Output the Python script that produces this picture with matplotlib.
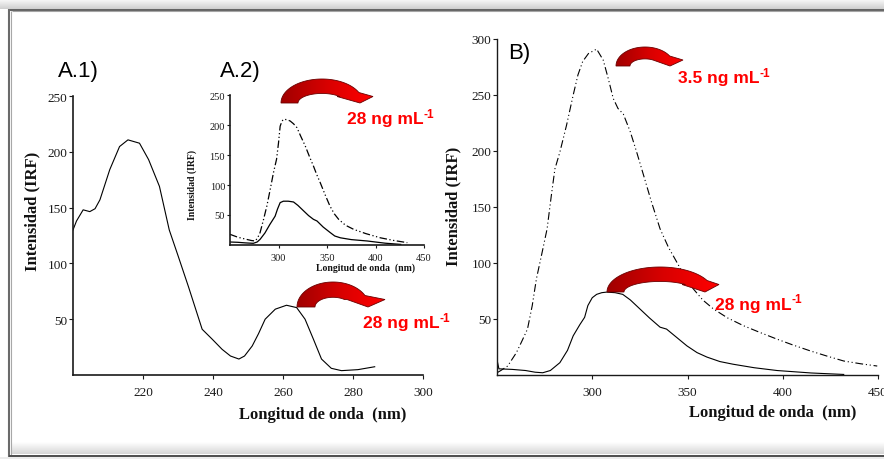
import numpy as np
import matplotlib
matplotlib.use("Agg")
import matplotlib.pyplot as plt
from matplotlib.patches import Polygon
from matplotlib.colors import LinearSegmentedColormap

plt.rcParams['font.family'] = ['Liberation Serif', 'DejaVu Serif']

# ---------------- data ----------------
# A.1) excitation spectrum
a1_wl = [200, 201, 202.9, 204.8, 206.3, 207.7, 210.5, 213.3, 215.7, 219, 221.6, 224.7,
         227.5, 230, 233, 236.9, 239.8, 242.6, 245, 247.4, 249, 251.2, 253, 254.9,
         257.8, 261, 263.9, 266.3, 268.7, 271, 273.8, 276.7, 281.4, 286.2]
a1_int = [130, 138, 148, 146.4, 149, 157, 184, 204.7, 210.7, 207.7, 193, 169,
          130, 107, 79, 41, 32, 23, 17, 14.3, 17, 26, 37, 50,
          59, 62.5, 60.4, 50, 32, 14.3, 6, 3.9, 4.8, 7.4]

# A.2) inset emission spectra (solid and dash-dot)
a2_wl_solid = [250, 258, 266, 274, 278, 281, 286, 291, 296.5, 299, 301.7, 305, 310,
               315.5, 320, 326, 331, 336, 339.7, 346, 353.4, 358, 363.8, 375, 391.4, 410, 426]
a2_int_solid = [5, 4.5, 3.5, 2.8, 5, 9.4, 20, 34, 48, 60, 70.6, 73, 73,
                71.7, 66, 56.7, 49, 42.8, 40, 30, 20.6, 15, 12, 9, 6.7, 3, 1]
a2_wl_dash = [250, 258, 267, 272, 276, 278.5, 281, 284.5, 288, 291.5, 294.8, 298, 300,
              301.7, 303.5, 305, 308.5, 312, 315.5, 319, 323, 327.6, 332, 336, 339.5,
              343, 348, 353, 357.5, 362, 369, 377.6, 390, 405, 419, 432.8]
a2_int_dash = [17.8, 13, 9.4, 7.5, 6.7, 12, 20.6, 42, 65, 93, 120.5, 143, 170,
               198, 206, 209.4, 209, 206.7, 202, 195.6, 181, 165, 147, 131.7, 117,
               104, 84, 65, 52, 42.8, 33, 26, 19, 12, 7.5, 3.9]

# B) emission spectra
b_wl_solid = [250.2, 251, 258, 265, 270, 274, 278, 283, 287, 290, 293.5, 296, 297.7,
              300, 302.3, 305, 307.5, 312, 316, 320, 325, 330, 335.6, 339, 344,
              349.7, 355, 360.2, 367, 374, 385, 397, 415, 432]
b_int_solid = [12, 5.5, 5, 4, 2.5, 2, 4, 11, 22, 35, 45, 51.5, 62,
               69, 72, 73.5, 74, 73.5, 72, 67, 59, 51, 42.7, 41, 34,
               26, 20, 16, 12, 9.6, 6.5, 4, 1.8, 0.5]
b_wl_dash = [250.4, 252, 255.6, 260.2, 263, 266, 268.5, 270.7, 273.5, 276.3, 278.5,
             280.4, 283, 286.5, 290, 292.5, 295, 298, 302.3, 305.8, 308.5, 311, 313.5,
             316.3, 320, 323.5, 327, 331, 335.6, 340, 344.4, 348.5, 353, 358, 363.6,
             371, 379.4, 388, 397, 405, 414.5, 423, 432, 441, 449.6]
b_int_dash = [2.4, 4, 8, 20, 30, 41, 62, 86, 108, 130.5, 160,
              184, 199, 223, 250, 268, 280, 287, 291, 281, 264, 247, 238,
              233, 217, 198, 178, 155, 130.5, 114, 100.7, 88, 77, 67, 59,
              51, 44, 38, 32, 27, 21.5, 17, 12.5, 10, 8]

a1_xticks = [220, 240, 260, 280, 300]
a1_yticks = [50, 100, 150, 200, 250]
a2_xticks = [300, 350, 400, 450]
a2_yticks = [50, 100, 150, 200, 250]
b_xticks = [300, 350, 400, 450]
b_yticks = [50, 100, 150, 200, 250, 300]

# ---------------- figure ----------------
W, H = 884, 460
fig = plt.figure(figsize=(W / 100, H / 100), dpi=100)
fig.patch.set_facecolor('white')

def px_axes(x0, y0, x1, y1, **kw):
    return fig.add_axes([x0 / W, 1 - y1 / H, (x1 - x0) / W, (y1 - y0) / H], **kw)

def style(ax, fs, spine_lw, tlen, xpad, ypad):
    for s in ('top', 'right'):
        ax.spines[s].set_visible(False)
    for s in ('left', 'bottom'):
        ax.spines[s].set_linewidth(spine_lw)
        ax.spines[s].set_color('#1a1a1a')
    ax.tick_params(direction='out', length=tlen, width=0.8, labelsize=fs,
                   colors='#1a1a1a')
    ax.tick_params(axis='x', pad=xpad)
    ax.tick_params(axis='y', pad=ypad)
    ax.patch.set_alpha(0)

dash_style = (0, (7, 2.5, 1, 2.5, 1, 2.5))

# A.1
ax1 = px_axes(73, 97, 423, 376)
ax1.plot(a1_wl, a1_int, color='black', lw=0.8)
ax1.set_xlim(200, 300)
ax1.set_ylim(0, 250)
ax1.set_xticks(a1_xticks)
ax1.set_yticks(a1_yticks)
style(ax1, 9.5, 1.2, 3, 5, 1)

# A.2 inset
ax2 = px_axes(230, 96, 424, 246)
ax2.plot(a2_wl_solid, a2_int_solid, color='black', lw=0.9)
ax2.plot(a2_wl_dash, a2_int_dash, color='black', lw=0.9, linestyle=(0, (6, 2, 1, 2, 1, 2)))
ax2.set_xlim(250, 450)
ax2.set_ylim(0, 250)
ax2.set_xticks(a2_xticks)
ax2.set_yticks(a2_yticks)
style(ax2, 7.5, 1.2, 2.5, 3, 1)

# B
ax3 = px_axes(497, 40, 878, 376)
ax3.plot(b_wl_solid, b_int_solid, color='black', lw=0.8)
ax3.plot(b_wl_dash, b_int_dash, color='black', lw=0.8, linestyle=dash_style)
ax3.set_xlim(250, 450)
ax3.set_ylim(0, 300)
ax3.set_xticks(b_xticks)
ax3.set_yticks(b_yticks)
style(ax3, 9.5, 1.0, 3, 5, 1)

# ---------------- overlay (pixel coordinates) ----------------
ov = fig.add_axes([0, 0, 1, 1], zorder=10)
ov.set_xlim(0, W)
ov.set_ylim(H, 0)
ov.axis('off')

# frame
gray_cmap = LinearSegmentedColormap.from_list('g', ['#fbfbfb', '#cfcfcf'])
ov.imshow(np.linspace(0, 1, 64).reshape(-1, 1), cmap=gray_cmap, extent=(0, W, 9.5, 0),
          aspect='auto', zorder=1)
shadow_cmap = LinearSegmentedColormap.from_list('s', ['#ffffff', '#d6d6d6'])
ov.imshow(np.linspace(0, 1, 64).reshape(-1, 1), cmap=shadow_cmap, extent=(12, W, 455.5, 444),
          aspect='auto', zorder=1)
ov.fill_between([0, W], 457.5, 460, color='#ececec', lw=0, zorder=1)
ov.plot([9.5, W], [10.5, 10.5], color='#555555', lw=1.3, zorder=2, solid_capstyle='butt')
ov.plot([11.5, W], [12.3, 12.3], color='#a5a5a5', lw=0.8, zorder=2, solid_capstyle='butt')
ov.plot([9.3, 9.3], [9.8, 457.5], color='#6a6a6a', lw=1.5, zorder=2, solid_capstyle='butt')
ov.plot([11.3, 11.3], [12, 455.5], color='#a8a8a8', lw=0.8, zorder=2, solid_capstyle='butt')
ov.plot([8.6, W], [456.7, 456.7], color='#4d4d4d', lw=1.4, zorder=2, solid_capstyle='butt')
ov.set_xlim(0, W)
ov.set_ylim(H, 0)

# axis labels
lab_kw = dict(fontweight='bold', family=['Liberation Serif'], color='#111111')
ov.text(323, 415, 'Longitud de onda  (nm)', fontsize=12, ha='center', va='center', **lab_kw)
ov.text(773, 413, 'Longitud de onda  (nm)', fontsize=12, ha='center', va='center', **lab_kw)
ov.text(32, 211, 'Intensidad (IRF)', fontsize=12, rotation=90, ha='center', va='center', **lab_kw)
ov.text(453, 206, 'Intensidad (IRF)', fontsize=12, rotation=90, ha='center', va='center', **lab_kw)
ov.text(365, 268, 'Longitud de onda  (nm)', fontsize=7, ha='center', va='center', **lab_kw)
ov.text(192, 185, 'Intensidad (IRF)', fontsize=7, rotation=90, ha='center', va='center', **lab_kw)

# panel labels
pan_kw = dict(fontsize=16, family=['Liberation Sans'], color='black', va='baseline', ha='left')
ov.text(58, 77, 'A.1)', **pan_kw)
ov.text(220, 77, 'A.2)', **pan_kw)
ov.text(508, 58.5, 'B)', **pan_kw)

# red concentration labels (main text + separate superscript)
red_kw = dict(family=['Liberation Sans'], fontweight='bold', color='#ff0000',
              va='baseline', ha='left')
red_labels = [(347, 124, '28 ng mL'), (363, 328.5, '28 ng mL'),
              (678, 83.5, '3.5 ng mL'), (715, 310, '28 ng mL')]
red_texts = [ov.text(x, y, s, fontsize=12.5, **red_kw) for x, y, s in red_labels]
fig.canvas.draw()
renderer = fig.canvas.get_renderer()
for (x, y, s), t in zip(red_labels, red_texts):
    bb = t.get_window_extent(renderer=renderer)
    ov.text(bb.x1 + 0.3, y - 6.5, '-1', fontsize=8.5, **red_kw)

# curved red block arrows
red_cmap = LinearSegmentedColormap.from_list('r', ['#a00000', '#d80000', '#ff0000'])

def curved_arrow(x_lo, w, yb, cx, y_top, xl, xr, yh, xt, yt, thin=0.85):
    rxo = cx - x_lo
    ryo = yb - y_top
    rxi = rxo - w
    ryi = ryo - w * thin
    yjo = yh - 4
    th_o = np.arcsin(min((yb - yjo) / ryo, 1))
    t = np.linspace(np.pi, th_o, 80)
    outer = np.column_stack([cx + rxo * np.cos(t), yb - ryo * np.sin(t)])
    th_i = np.arcsin(min((yb - yh) / ryi, 1))
    t2 = np.linspace(th_i, np.pi, 80)
    inner = np.column_stack([cx + rxi * np.cos(t2), yb - ryi * np.sin(t2)])
    pts = np.vstack([outer, [[xr, yh], [xt, yt], [xl, yh]], inner])
    poly = Polygon(pts, closed=True, facecolor='none', edgecolor='#6a0000', lw=0.6, zorder=6)
    ov.add_patch(poly)
    grad = np.linspace(0, 1, 256).reshape(1, -1)
    im = ov.imshow(grad, cmap=red_cmap,
                   extent=(pts[:, 0].min(), pts[:, 0].max(), pts[:, 1].max(), pts[:, 1].min()),
                   aspect='auto', zorder=5, interpolation='bilinear')
    im.set_clip_path(poly)

curved_arrow(281, 17, 104, 322, 80, 337, 373, 97.5, 360, 104)
curved_arrow(297, 18, 308, 333, 283, 347, 385, 300.5, 368, 308)
curved_arrow(616, 14, 67, 645, 48, 653, 683, 61, 670, 67)
curved_arrow(607, 17, 293, 660, 268, 682, 719, 285.5, 705, 293)

ov.set_xlim(0, W)
ov.set_ylim(H, 0)

fig.savefig('out.png', dpi=100, facecolor='white')
